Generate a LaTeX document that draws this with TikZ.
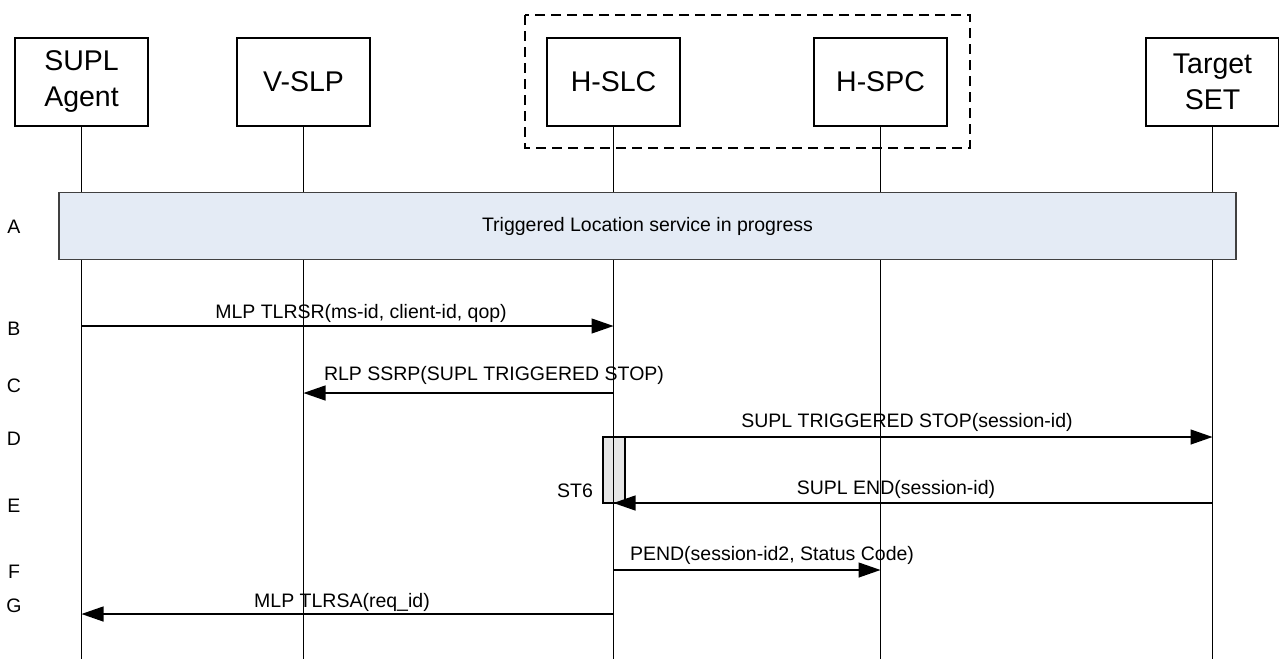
\documentclass[tikz,border=0pt]{standalone}
\usepackage{fontspec}
\setmainfont{Liberation Sans}
\usetikzlibrary{arrows.meta}
\definecolor{phasefill}{HTML}{E4EBF5}
\definecolor{actfill}{HTML}{E6E6E6}
\begin{document}
\begin{tikzpicture}[x=1pt,y=-1pt,
  entity/.style={draw, line width=1.4pt, minimum width=133pt, minimum height=88pt, inner sep=0pt, align=center, font=\fontsize{28.5}{36}\selectfont},
  lifeline/.style={line width=1.3pt},
  msg/.style={line width=1.3pt, -{Triangle[length=22pt,width=15pt]}},
  lbl/.style={font=\fontsize{19.5}{23}\selectfont, inner sep=0pt},
  rowlbl/.style={font=\fontsize{19.5}{23}\selectfont, inner sep=0pt}]
\useasboundingbox (0,0) rectangle (1279,659);
% grouping box
\draw[line width=1.4pt, dash pattern=on 10pt off 6pt] (525,15) rectangle (970,148);
% entities
\node[entity] (sa) at (81.5,82) {SUPL\\Agent};
\node[entity] (vslp) at (303.5,82) {V-SLP};
\node[entity] (hslc) at (613.5,82) {H-SLC};
\node[entity] (hspc) at (880.5,82) {H-SPC};
\node[entity] (tset) at (1212.5,82) {Target\\SET};
% lifeline ends
\coordinate (saE) at (81.5,659);
\coordinate (vslpE) at (303.5,659);
\coordinate (hslcE) at (613.5,659);
\coordinate (hspcE) at (880.5,659);
\coordinate (tsetE) at (1212.5,659);
% activation box
\node[draw, fill=actfill, line width=1.3pt, minimum width=22pt, minimum height=66pt, inner sep=0pt] (st6box) at (614,470) {};
\node[lbl] (st6) at (575,491) {ST6};
% lifelines
\draw[lifeline] (sa.south) -- (saE);
\draw[lifeline] (vslp.south) -- (vslpE);
\draw[lifeline] (hslc.south) -- (hslcE);
\draw[lifeline] (hspc.south) -- (hspcE);
\draw[lifeline] (tset.south) -- (tsetE);
% phase A
\node[draw=black!75, fill=phasefill, line width=1.2pt, minimum width=1177pt, minimum height=66.5pt, inner sep=0pt, font=\fontsize{19.5}{23}\selectfont] (phaseA) at (647.5,226) {Triggered Location service in progress};
% row labels
\node[rowlbl] (rA) at (14,227) {A};
\node[rowlbl] (rB) at (14,329) {B};
\node[rowlbl] (rC) at (14,386) {C};
\node[rowlbl] (rD) at (14,439) {D};
\node[rowlbl] (rE) at (14,506) {E};
\node[rowlbl] (rF) at (14,572) {F};
\node[rowlbl] (rG) at (14,606) {G};
% message endpoints
\coordinate (bS) at (81.5,326);  \coordinate (bT) at (613.5,326);
\coordinate (cS) at (613.5,393); \coordinate (cT) at (303.5,393);
\coordinate (dS) at (613.5,437); \coordinate (dT) at (1212.5,437);
\coordinate (eS) at (1212.5,503); \coordinate (eT) at (613.5,503);
\coordinate (fS) at (613.5,570); \coordinate (fT) at (880.5,570);
\coordinate (gS) at (613.5,614); \coordinate (gT) at (81.5,614);
% messages
\draw[msg] (bS) -- (bT);
\node[lbl] (bL) at (361,313) {MLP TLRSR(ms-id, client-id, qop)};
\draw[msg] (cS) -- (cT);
\node[lbl] (cL) at (494,375) {RLP SSRP(SUPL TRIGGERED STOP)};
\draw[msg] (dS) -- (dT);
\node[lbl] (dL) at (907,422) {SUPL TRIGGERED STOP(session-id)};
\draw[msg] (eS) -- (eT);
\node[lbl] (eL) at (896,489) {SUPL END(session-id)};
\draw[msg] (fS) -- (fT);
\node[lbl] (fL) at (772,555) {PEND(session-id2, Status Code)};
\draw[msg] (gS) -- (gT);
\node[lbl] (gL) at (342,602) {MLP TLRSA(req\_id)};
\end{tikzpicture}
\end{document}
